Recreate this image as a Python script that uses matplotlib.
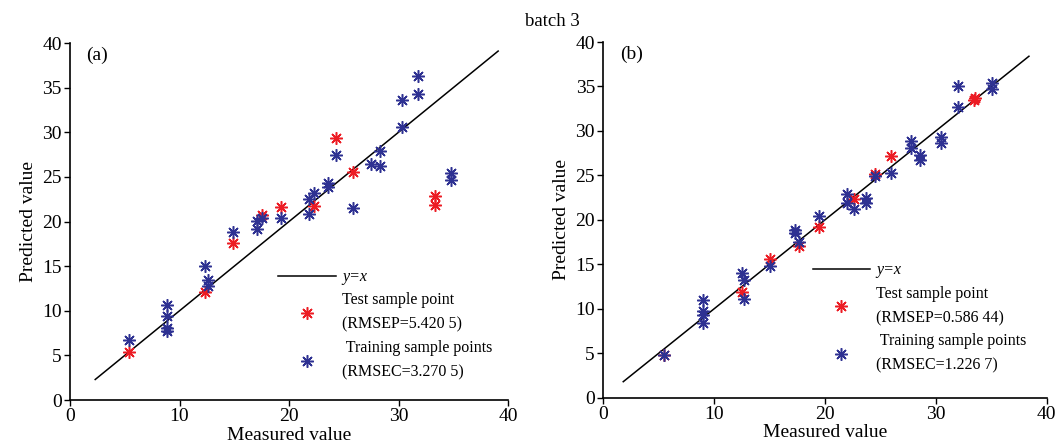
import matplotlib.pyplot as plt
from matplotlib.lines import Line2D

plt.rcParams["font.family"] = ["Liberation Serif", "DejaVu Serif"]

RED = "#ec1c24"
BLUE = "#2e3192"

# panel (a)
a_test_x = [5.4, 12.3, 14.85, 17.5, 19.3, 22.3, 24.3, 25.8, 33.3, 33.3]
a_test_y = [5.4, 12.1, 17.6, 20.7, 21.6, 21.7, 29.4, 25.6, 22.9, 21.9]
a_train_x = [5.4, 8.85, 8.85, 8.85, 8.85, 12.3, 12.6, 12.6, 14.85, 17.1, 17.1,
             17.5, 19.3, 21.8, 21.8, 22.3, 23.6, 23.6, 24.3, 25.8, 27.5, 28.3,
             28.3, 30.3, 30.3, 31.8, 31.8, 34.8, 34.8]
a_train_y = [6.7, 10.7, 9.4, 8.1, 7.7, 15.0, 13.4, 12.8, 18.8, 20.1, 19.2,
             20.4, 20.4, 22.5, 20.8, 23.2, 24.3, 23.9, 27.4, 21.5, 26.5, 27.9,
             26.2, 33.6, 30.6, 36.3, 34.3, 25.4, 24.6]
a_line = [2.3, 39.1]

# panel (b)
b_test_x = [5.5, 12.5, 15.0, 17.7, 19.5, 22.6, 24.5, 26.0, 33.5, 33.4]
b_test_y = [4.8, 11.85, 15.6, 17.1, 19.2, 22.3, 25.2, 27.2, 33.7, 33.5]
b_train_x = [5.5, 9.0, 9.0, 9.0, 9.0, 12.5, 12.7, 12.7, 15.0, 17.3, 17.3,
             17.7, 19.5, 22.0, 22.0, 22.6, 23.7, 23.7, 24.5, 26.0, 27.8, 27.8,
             28.6, 28.6, 30.5, 30.5, 32.0, 32.0, 35.05, 35.05]
b_train_y = [4.8, 11.0, 9.7, 9.3, 8.4, 14.0, 13.2, 11.1, 14.8, 18.9, 18.5,
             17.5, 20.4, 22.9, 21.9, 21.2, 22.5, 21.9, 24.9, 25.3, 28.9, 28.05,
             27.3, 26.7, 29.3, 28.6, 35.1, 32.7, 35.4, 34.7]
b_line = [1.8, 38.4]

panels = [
    ("(a)", a_test_x, a_test_y, a_train_x, a_train_y, a_line,
     "(RMSEP=5.420 5)", "(RMSEC=3.270 5)",
     [0.066, 0.1031, 0.4128, 0.8004], (0.475, 0.055)),
    ("(b)", b_test_x, b_test_y, b_train_x, b_train_y, b_line,
     "(RMSEP=0.586 44)", "(RMSEC=1.226 7)",
     [0.5686, 0.1083, 0.4179, 0.7975], (0.472, 0.068)),
]

marker = (8, 2, 0)
ms = 9
mew = 1.1

fig = plt.figure(figsize=(10.61, 4.46), dpi=100)

for tag, tx, ty, rx, ry, line, rmsep, rmsec, rect, leg_pos in panels:
    ax = fig.add_axes(rect)
    ax.plot(line, line, color="black", linewidth=1.1)
    ax.plot(tx, ty, linestyle="none", marker=marker, ms=ms, mew=mew,
            color=RED, mec=RED)
    ax.plot(rx, ry, linestyle="none", marker=marker, ms=ms, mew=mew,
            color=BLUE, mec=BLUE)

    ax.set_xlim(0, 40)
    ax.set_ylim(0, 40)
    ax.set_xticks(range(0, 41, 10))
    ax.set_yticks(range(0, 41, 5))
    ax.tick_params(direction="out", length=4, width=1, labelsize=14, pad=2)
    for s in ["top", "right"]:
        ax.spines[s].set_visible(False)
    for s in ["left", "bottom"]:
        ax.spines[s].set_linewidth(1.2)
    ax.set_xlabel("Measured value", fontsize=14, labelpad=1)
    ax.set_ylabel("Predicted value", fontsize=14, labelpad=4)
    ax.text(0.037, 0.965, tag, transform=ax.transAxes, fontsize=14,
            va="center", ha="left")

    handles = [
        Line2D([], [], color="black", linewidth=1.1),
        Line2D([], [], linestyle="none", marker=marker, ms=ms, mew=mew,
               color=RED, mec=RED),
        Line2D([], [], linestyle="none", marker=marker, ms=ms, mew=mew,
               color=BLUE, mec=BLUE),
    ]
    labels = ["y=x",
              "Test sample point\n" + rmsep,
              " Training sample points\n" + rmsec]
    leg = ax.legend(handles, labels, loc="lower left", bbox_to_anchor=leg_pos,
                    frameon=False, fontsize=11.5, handlelength=3.6,
                    handletextpad=0.4, borderpad=0, borderaxespad=0,
                    labelspacing=0.45)
    for t in leg.get_texts():
        t.set_linespacing(1.7)
    leg.get_texts()[0].set_fontstyle("italic")

fig.text(0.521, 0.952, "batch 3", fontsize=13.5, ha="center", va="center")

fig.savefig("out.png", dpi=100)
